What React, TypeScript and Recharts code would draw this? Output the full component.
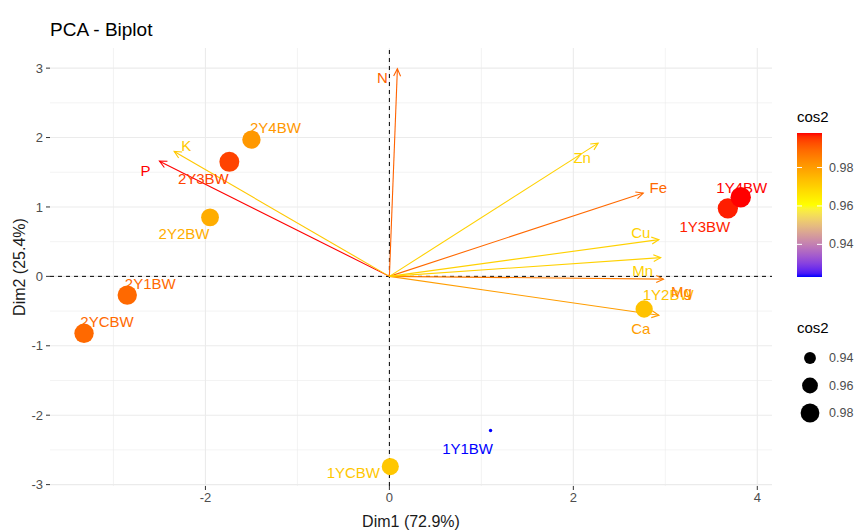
import { ScatterChart, Scatter, XAxis, YAxis, ReferenceLine } from "recharts"

// individuals (rows)
const indNames = ["1YCBW", "1Y1BW", "1Y2BW", "1Y3BW", "1Y4BW", "2YCBW", "2Y1BW", "2Y2BW", "2Y3BW", "2Y4BW"]
const indDim1 = [0.01, 1.1, 2.77, 3.68, 3.82, -3.32, -2.85, -1.95, -1.74, -1.5]
const indDim2 = [-2.74, -2.22, -0.47, 0.98, 1.14, -0.82, -0.27, 0.85, 1.65, 1.97]
const indCos2 = [0.972, 0.923, 0.973, 0.997, 0.998, 0.989, 0.989, 0.977, 0.994, 0.981]

// variables (arrows)
const varNames = ["N", "P", "K", "Ca", "Mg", "Fe", "Zn", "Mn", "Cu"]
const varDim1 = [0.087, -2.5, -2.34, 2.93, 2.98, 2.76, 2.27, 2.95, 2.93]
const varDim2 = [2.99, 1.66, 1.8, -0.56, -0.04, 1.2, 1.92, 0.27, 0.53]
const varCos2 = [0.99, 0.998, 0.972, 0.98, 0.986, 0.989, 0.97, 0.97, 0.97]

const xTicks = [-2, 0, 2, 4]
const yTicks = [-3, -2, -1, 0, 1, 2, 3]
const xGrid = [-3, -2, -1, 0, 1, 2, 3, 4]
const yGrid = [-3, -2.5, -2, -1.5, -1, -0.5, 0, 0.5, 1, 1.5, 2, 2.5, 3]
const legendBreaks = [0.94, 0.96, 0.98]
const cos2Limits = [0.923, 0.998]
const gradientCols = ["#0000FF", "#FFFF00", "#FF0000"]

// label offsets in px (like ggrepel placed them)
const indLabelShift: Record<string, [number, number]> = {
  "1YCBW": [-37, 6], "1Y1BW": [-23, 18], "1Y2BW": [24, -14], "1Y3BW": [-23, 18], "1Y4BW": [1, -10],
  "2YCBW": [23, -12], "2Y1BW": [23, -12], "2Y2BW": [-26, 16], "2Y3BW": [-26, 17], "2Y4BW": [24, -12],
}
const varLabelShift: Record<string, [number, number]> = {
  N: [-15, 9], P: [-14, 9], K: [12, -6], Ca: [-18, 13], Mg: [18, 12],
  Fe: [15, -6], Zn: [-16, 14], Mn: [-18, 13], Cu: [-18, -7],
}

const FONT = "'Liberation Sans', Arial, sans-serif"

// colour ramp in CIELAB like ggplot's gradientn
const toLin = (c: number) => {
  c /= 255
  return c <= 0.04045 ? c / 12.92 : Math.pow((c + 0.055) / 1.055, 2.4)
}
const fromLin = (c: number) => {
  const v = c <= 0.0031308 ? 12.92 * c : 1.055 * Math.pow(c, 1 / 2.4) - 0.055
  return Math.round(Math.max(0, Math.min(1, v)) * 255)
}
function hexToLab(hex: string) {
  const n = parseInt(hex.slice(1), 16)
  const R = toLin((n >> 16) & 255), G = toLin((n >> 8) & 255), B = toLin(n & 255)
  const X = (0.4124 * R + 0.3576 * G + 0.1805 * B) / 0.95047
  const Y = 0.2126 * R + 0.7152 * G + 0.0722 * B
  const Z = (0.0193 * R + 0.1192 * G + 0.9505 * B) / 1.08883
  const f = (t: number) => (t > 0.008856 ? Math.cbrt(t) : 7.787 * t + 16 / 116)
  const fx = f(X), fy = f(Y), fz = f(Z)
  return [116 * fy - 16, 500 * (fx - fy), 200 * (fy - fz)]
}
function labToHex([L, a, b]: number[]) {
  const fy = (L + 16) / 116, fx = fy + a / 500, fz = fy - b / 200
  const inv = (t: number) => (t ** 3 > 0.008856 ? t ** 3 : (t - 16 / 116) / 7.787)
  const X = inv(fx) * 0.95047, Y = inv(fy), Z = inv(fz) * 1.08883
  const r = fromLin(3.2406 * X - 1.5372 * Y - 0.4986 * Z)
  const g = fromLin(-0.9689 * X + 1.8758 * Y + 0.0415 * Z)
  const bl = fromLin(0.0557 * X - 0.204 * Y + 1.057 * Z)
  return "#" + [r, g, bl].map((v) => v.toString(16).padStart(2, "0")).join("")
}
const labStops = gradientCols.map(hexToLab)
function rampAt(t: number) {
  t = Math.max(0, Math.min(1, t))
  const seg = t < 0.5 ? 0 : 1
  const f = (t - seg * 0.5) / 0.5
  const a = labStops[seg], b = labStops[seg + 1]
  return labToHex(a.map((v, i) => v + (b[i] - v) * f))
}
const scaleT = (v: number) => (v - cos2Limits[0]) / (cos2Limits[1] - cos2Limits[0])
const cos2Color = (v: number) => rampAt(scaleT(v))
// scale_size area palette, range 1..6
const cos2Radius = (v: number) => 1.7 * (1 + 5 * Math.sqrt(Math.max(0, scaleT(v))))

const indData = indNames.map((name, i) => ({ name, x: indDim1[i], y: indDim2[i], cos2: indCos2[i] }))
const varData = varNames.map((name, i) => ({ name, x: varDim1[i], y: varDim2[i], cos2: varCos2[i] }))

function PointShape(p: any) {
  const { cx, cy, payload } = p
  return <circle cx={cx} cy={cy} r={cos2Radius(payload.cos2)} fill={cos2Color(payload.cos2)} />
}

function IndLabel(p: any) {
  const { cx, cy, payload } = p
  const [dx, dy] = indLabelShift[payload.name]
  return (
    <text x={cx + dx} y={cy + dy} textAnchor="middle" dominantBaseline="central" fontSize={15} fontFamily={FONT} fill={cos2Color(payload.cos2)}>
      {payload.name}
    </text>
  )
}

function VarLabel(p: any) {
  const { cx, cy, payload } = p
  const [dx, dy] = varLabelShift[payload.name]
  return (
    <text x={cx + dx} y={cy + dy} textAnchor="middle" dominantBaseline="central" fontSize={15} fontFamily={FONT} fill={cos2Color(payload.cos2)}>
      {payload.name}
    </text>
  )
}

function ArrowShape(p: any) {
  const { x1, y1, x2, y2, color } = p
  const ang = Math.atan2(y2 - y1, x2 - x1)
  const L = 8
  const spread = Math.PI / 7
  const ax = x2 - L * Math.cos(ang - spread), ay = y2 - L * Math.sin(ang - spread)
  const bx = x2 - L * Math.cos(ang + spread), by = y2 - L * Math.sin(ang + spread)
  return (
    <g>
      <line x1={x1} y1={y1} x2={x2} y2={y2} stroke={color} strokeWidth={1.1} />
      <polyline points={`${ax},${ay} ${x2},${y2} ${bx},${by}`} fill="none" stroke={color} strokeWidth={1.1} />
    </g>
  )
}

function Legends() {
  const barX = 797, barTop = 133, barH = 144, barW = 25
  const barY = (v: number) => barTop + barH - scaleT(v) * barH
  const stops = Array.from({ length: 41 }, (_, i) => i / 40)
  return (
    <svg width={858} height={531} style={{ position: "absolute", left: 0, top: 0, pointerEvents: "none" }}>
      <defs>
        <linearGradient id="cosbar" x1="0" y1="1" x2="0" y2="0">
          {stops.map((s) => (
            <stop key={s} offset={s} stopColor={rampAt(s)} />
          ))}
        </linearGradient>
      </defs>
      <text x={50} y={36} fontSize={19} fontFamily={FONT} fill="#000">PCA - Biplot</text>
      <text x={411} y={527} fontSize={16} fontFamily={FONT} fill="#1a1a1a" textAnchor="middle">Dim1 (72.9%)</text>
      <text x={25} y={267} fontSize={16} fontFamily={FONT} fill="#1a1a1a" textAnchor="middle" transform="rotate(-90 25 267)">Dim2 (25.4%)</text>

      <text x={797} y={122} fontSize={15} fontFamily={FONT} fill="#000">cos2</text>
      <rect x={barX} y={barTop} width={barW} height={barH} fill="url(#cosbar)" />
      {legendBreaks.map((v) => (
        <g key={v}>
          <line x1={barX} x2={barX + 5} y1={barY(v)} y2={barY(v)} stroke="#fff" />
          <line x1={barX + barW - 5} x2={barX + barW} y1={barY(v)} y2={barY(v)} stroke="#fff" />
          <text x={829} y={barY(v)} dominantBaseline="central" fontSize={12.5} fontFamily={FONT} fill="#4D4D4D">{v.toFixed(2)}</text>
        </g>
      ))}

      <text x={797} y={333} fontSize={15} fontFamily={FONT} fill="#000">cos2</text>
      {legendBreaks.map((v, i) => (
        <g key={"s" + v}>
          <circle cx={810} cy={358 + i * 27.5} r={cos2Radius(v) * 1.03} fill="#000" />
          <text x={829} y={358 + i * 27.5} dominantBaseline="central" fontSize={12.5} fontFamily={FONT} fill="#4D4D4D">{v.toFixed(2)}</text>
        </g>
      ))}
    </svg>
  )
}

export default function App() {
  return (
    <div style={{ position: "absolute", left: 0, top: 0, width: 858, height: 531, background: "#fff", fontFamily: FONT }}>
      <ScatterChart width={858} height={531} margin={{ top: 48, right: 86, bottom: 0, left: 0 }}>
        {xGrid.map((v) => (
          <ReferenceLine key={"gx" + v} x={v} stroke="#EBEBEB" strokeWidth={xTicks.includes(v) ? 1.1 : 0.6} />
        ))}
        {yGrid.map((v) => (
          <ReferenceLine key={"gy" + v} y={v} stroke="#EBEBEB" strokeWidth={yTicks.includes(v) ? 1.1 : 0.6} />
        ))}
        <XAxis
          type="number"
          dataKey="x"
          domain={[-3.69, 4.16]}
          allowDataOverflow
          ticks={xTicks}
          interval={0}
          height={45}
          axisLine={false}
          tickLine={{ stroke: "#333" }}
          tickSize={4}
          tickMargin={3}
          tick={{ fill: "#4D4D4D", fontSize: 13, fontFamily: FONT }}
        />
        <YAxis
          type="number"
          dataKey="y"
          domain={[-3.02, 3.29]}
          allowDataOverflow
          ticks={yTicks}
          interval={0}
          width={50}
          axisLine={false}
          tickLine={{ stroke: "#333" }}
          tickSize={4}
          tickMargin={3}
          tick={{ fill: "#4D4D4D", fontSize: 13, fontFamily: FONT }}
        />
        <ReferenceLine x={0} stroke="#000" strokeDasharray="4 4" />
        <ReferenceLine y={0} stroke="#000" strokeDasharray="4 4" />
        <Scatter data={indData} shape={PointShape} isAnimationActive={false} />
        <Scatter data={indData} shape={IndLabel} isAnimationActive={false} />
        {varData.map((v) => (
          <ReferenceLine
            key={"a" + v.name}
            segment={[{ x: 0, y: 0 }, { x: v.x, y: v.y }]}
            shape={(p: any) => <ArrowShape {...p} color={cos2Color(v.cos2)} />}
          />
        ))}
        <Scatter data={varData} shape={VarLabel} isAnimationActive={false} />
      </ScatterChart>
      <Legends />
    </div>
  )
}
